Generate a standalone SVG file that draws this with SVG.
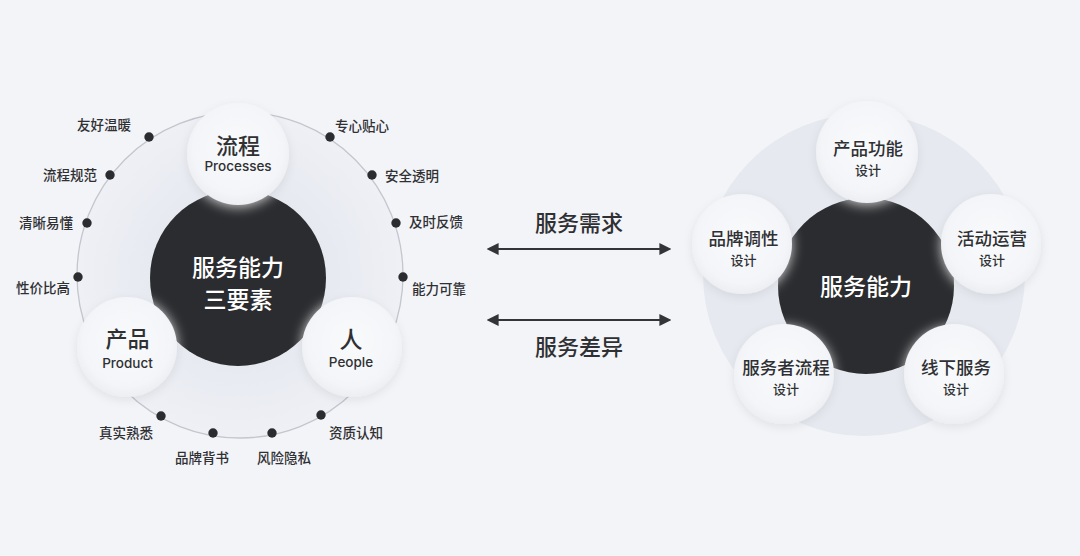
<svg xmlns="http://www.w3.org/2000/svg" width="1080" height="556" viewBox="0 0 1080 556">
  <defs>
    <style>
      .cjk { font-family: "Noto Sans CJK SC", "Noto Sans", sans-serif; fill: #2f3033; }
      .lat { font-family: Inter, "Liberation Sans", "Noto Sans", sans-serif; fill: #2f3033; }
      .lbl { font-size: 13.5px; font-weight: 500; }
      .dot { fill: #2b2c2f; }
      .bubble { fill: url(#bub); filter: url(#sh); }
      .title { font-size: 22px; font-weight: 500; text-anchor: middle; }
      .sub { font-size: 13.5px; font-weight: 500; text-anchor: middle; }
      .rt { font-size: 17.5px; font-weight: 500; text-anchor: middle; }
      .rs { font-size: 13px; font-weight: 500; text-anchor: middle; }
      .core { font-size: 23px; font-weight: 500; text-anchor: middle; fill: #ffffff; }
      .arr { stroke: #333438; stroke-width: 2; fill: none; marker-start: url(#ah); marker-end: url(#ah); }
      .halo { fill: #d6d6d8; filter: url(#blur); }
    </style>
    <radialGradient id="bub" cx="50%" cy="45%" r="55%">
      <stop offset="0" stop-color="#f9fafc"/>
      <stop offset="0.8" stop-color="#f4f5f8"/>
      <stop offset="1" stop-color="#eceef2"/>
    </radialGradient>
    <radialGradient id="ringL" cx="50%" cy="50%" r="50%">
      <stop offset="0.5" stop-color="#e6e9f0"/>
      <stop offset="1" stop-color="#eef0f5"/>
    </radialGradient>
    <filter id="sh" x="-30%" y="-30%" width="160%" height="160%">
      <feDropShadow dx="0" dy="3" stdDeviation="5" flood-color="#1a1d28" flood-opacity="0.08"/>
    </filter>
    <filter id="blur" x="-30%" y="-30%" width="160%" height="160%">
      <feGaussianBlur stdDeviation="6"/>
    </filter>
    <clipPath id="clipL"><circle cx="238" cy="278" r="88"/></clipPath>
    <clipPath id="clipR"><circle cx="866" cy="286" r="88"/></clipPath>
    <marker id="ah" viewBox="0 0 10 10" refX="8" refY="5" markerWidth="6" markerHeight="6" orient="auto-start-reverse">
      <path d="M0,0 L10,5 L0,10 Z" fill="#333438"/>
    </marker>
  </defs>

  <rect width="1080" height="556" fill="#f3f4f8"/>

  <!-- LEFT DIAGRAM -->
  <g id="left-ring">
    <circle cx="240" cy="275" r="163" fill="url(#ringL)" stroke="#c3c6cd" stroke-width="1.3"/>
  </g>

  <g id="left-core">
    <circle cx="238" cy="278" r="88" fill="#2b2c2f"/>
    <g clip-path="url(#clipL)">
      <circle class="halo" cx="238" cy="156" r="51"/>
      <circle class="halo" cx="127" cy="347" r="50"/>
      <circle class="halo" cx="352" cy="347" r="50"/>
    </g>
    <text class="cjk core" x="238" y="275.5">服务能力</text>
    <text class="cjk core" x="238" y="308">三要素</text>
  </g>

  <g id="node-process">
    <circle class="bubble" cx="238" cy="154" r="51"/>
    <text class="cjk title" x="238" y="153.5">流程</text>
    <text class="lat sub" x="238" y="171">Processes</text>
  </g>
  <g id="node-product">
    <circle class="bubble" cx="127" cy="347" r="50"/>
    <text class="cjk title" x="127.5" y="346.5">产品</text>
    <text class="lat sub" x="127.5" y="368">Product</text>
  </g>
  <g id="node-people">
    <circle class="bubble" cx="352" cy="347" r="50"/>
    <text class="cjk title" x="351" y="348" style="font-size:23px">人</text>
    <text class="lat sub" x="351" y="366.5">People</text>
  </g>

  <g id="left-points">
    <circle class="dot" cx="149" cy="137" r="4.7"/>
    <text class="cjk lbl" x="131" y="130" text-anchor="end">友好温暖</text>
    <circle class="dot" cx="110" cy="175" r="4.7"/>
    <text class="cjk lbl" x="97" y="180" text-anchor="end">流程规范</text>
    <circle class="dot" cx="87" cy="223" r="4.7"/>
    <text class="cjk lbl" x="73" y="228" text-anchor="end">清晰易懂</text>
    <circle class="dot" cx="78" cy="277" r="4.7"/>
    <text class="cjk lbl" x="70" y="293" text-anchor="end">性价比高</text>

    <circle class="dot" cx="330" cy="137" r="4.7"/>
    <text class="cjk lbl" x="335" y="131">专心贴心</text>
    <circle class="dot" cx="372" cy="175" r="4.7"/>
    <text class="cjk lbl" x="385" y="181">安全透明</text>
    <circle class="dot" cx="396" cy="223" r="4.7"/>
    <text class="cjk lbl" x="409" y="227">及时反馈</text>
    <circle class="dot" cx="403" cy="277" r="4.7"/>
    <text class="cjk lbl" x="412" y="294">能力可靠</text>

    <circle class="dot" cx="161" cy="416" r="4.7"/>
    <text class="cjk lbl" x="153" y="438" text-anchor="end">真实熟悉</text>
    <circle class="dot" cx="213" cy="433" r="4.7"/>
    <text class="cjk lbl" x="229" y="463" text-anchor="end">品牌背书</text>
    <circle class="dot" cx="272" cy="433" r="4.7"/>
    <text class="cjk lbl" x="257" y="463">风险隐私</text>
    <circle class="dot" cx="321" cy="415" r="4.7"/>
    <text class="cjk lbl" x="329" y="438">资质认知</text>
  </g>

  <!-- MIDDLE CONNECTORS -->
  <g id="connectors">
    <line class="arr" x1="489" y1="249" x2="669" y2="249"/>
    <line class="arr" x1="489" y1="320" x2="669" y2="320"/>
    <text class="cjk" x="579" y="231" text-anchor="middle" font-size="22" font-weight="500">服务需求</text>
    <text class="cjk" x="579" y="355" text-anchor="middle" font-size="22" font-weight="500">服务差异</text>
  </g>

  <!-- RIGHT DIAGRAM -->
  <g id="right-ring">
    <circle cx="864" cy="275" r="161" fill="#e6e9ef"/>
  </g>

  <g id="right-core">
    <circle cx="866" cy="286" r="88" fill="#2b2c2f"/>
    <g clip-path="url(#clipR)">
      <circle class="halo" cx="867" cy="154" r="51"/>
      <circle class="halo" cx="742" cy="246" r="50"/>
      <circle class="halo" cx="991" cy="246" r="50"/>
      <circle class="halo" cx="784" cy="376" r="50"/>
      <circle class="halo" cx="954" cy="376" r="50"/>
    </g>
    <text class="cjk core" x="866" y="295">服务能力</text>
  </g>

  <g id="node-func">
    <circle class="bubble" cx="867" cy="152" r="51"/>
    <text class="cjk rt" x="868" y="154.5">产品功能</text>
    <text class="cjk rs" x="868" y="175">设计</text>
  </g>
  <g id="node-brand">
    <circle class="bubble" cx="742" cy="244" r="50"/>
    <text class="cjk rt" x="743.5" y="244.5">品牌调性</text>
    <text class="cjk rs" x="743.5" y="265">设计</text>
  </g>
  <g id="node-ops">
    <circle class="bubble" cx="991" cy="244" r="50"/>
    <text class="cjk rt" x="992" y="244.5">活动运营</text>
    <text class="cjk rs" x="992" y="265">设计</text>
  </g>
  <g id="node-flow">
    <circle class="bubble" cx="784" cy="374" r="50"/>
    <text class="cjk rt" x="786" y="373.5">服务者流程</text>
    <text class="cjk rs" x="786" y="394">设计</text>
  </g>
  <g id="node-offline">
    <circle class="bubble" cx="954" cy="374" r="50"/>
    <text class="cjk rt" x="956" y="373.5">线下服务</text>
    <text class="cjk rs" x="956" y="394">设计</text>
  </g>
</svg>
